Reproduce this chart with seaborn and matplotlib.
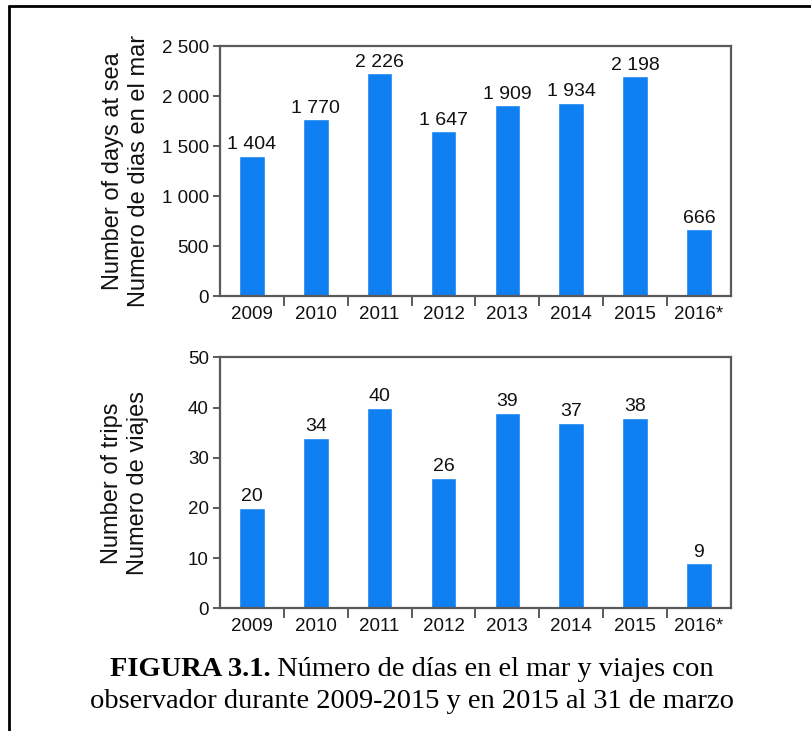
import numpy as np
import pandas as pd
import matplotlib
matplotlib.use("Agg")
import matplotlib.pyplot as plt
import seaborn as sns
from matplotlib.lines import Line2D
from matplotlib.ticker import FuncFormatter, FixedLocator

# data
years = ["2009", "2010", "2011", "2012", "2013", "2014", "2015", "2016*"]
days_at_sea = [1404, 1770, 2226, 1647, 1909, 1934, 2198, 666]
trips = [20, 34, 40, 26, 39, 37, 38, 9]

sns.set_style("white")
plt.rcParams["font.family"] = ["Liberation Sans", "DejaVu Sans"]
plt.rcParams["text.color"] = "#111111"
plt.rcParams["axes.labelcolor"] = "#111111"
plt.rcParams["xtick.color"] = "#111111"
plt.rcParams["ytick.color"] = "#111111"

bar_color = "#0f80f2"
spine_color = "#5a5a5a"

fig = plt.figure(figsize=(8.12, 7.31), dpi=100)
ax1 = fig.add_axes([0.271, 0.595, 0.629, 0.342])
ax2 = fig.add_axes([0.271, 0.168, 0.629, 0.343])


def space_thousands(v, pos=None):
    return f"{int(v):,}".replace(",", " ")


def draw_panel(ax, values, ymax, step, ylabel, label_x):
    df = pd.DataFrame({"year": years, "value": values})
    sns.barplot(data=df, x="year", y="value", color=bar_color, width=0.4,
                saturation=1, ax=ax)
    ax.set_ylim(0, ymax)
    ax.set_xlim(-0.5, len(years) - 0.5)
    ax.set_yticks(np.arange(0, ymax + 1, step))
    ax.yaxis.set_major_formatter(FuncFormatter(space_thousands))
    # category labels centred, tick marks between categories
    ax.xaxis.set_minor_locator(FixedLocator(np.arange(0.5, len(years) - 1, 1)))
    ax.tick_params(which="both", bottom=True, left=True)
    ax.tick_params(axis="x", which="major", length=0, pad=7, labelsize=13.5)
    ax.tick_params(axis="x", which="minor", length=7, width=1.4,
                   color=spine_color, direction="out")
    ax.tick_params(axis="y", length=5, width=1.4, color=spine_color,
                   labelsize=13.5, pad=3)
    for s in ax.spines.values():
        s.set_visible(True)
        s.set_color(spine_color)
        s.set_linewidth(1.6)
    for i, v in enumerate(values):
        ax.text(i, v + ymax * 0.01, space_thousands(v), ha="center",
                va="bottom", fontsize=14)
    ax.set_xlabel("")
    ax.set_ylabel(ylabel, fontsize=17, linespacing=1.2)
    ax.yaxis.set_label_coords(label_x, 0.5)


draw_panel(ax1, days_at_sea, 2500, 500,
           "Number of days at sea\nNumero de dias en el mar", -0.138)
draw_panel(ax2, trips, 50, 10,
           "Number of trips\nNumero de viajes", -0.14)

# outer frame (left and top)
fig.add_artist(Line2D([9 / 812, 9 / 812], [0, 1 - 6 / 731],
                      transform=fig.transFigure, color="black", lw=2))
fig.add_artist(Line2D([9 / 812, 1], [1 - 6 / 731, 1 - 6 / 731],
                      transform=fig.transFigure, color="black", lw=2))

# caption with bold lead-in
serif = ["Liberation Serif", "DejaVu Serif"]
cap_bold = "FIGURA 3.1."
cap_rest = " Número de días en el mar y viajes con"
cap_line2 = "observador durante 2009-2015 y en 2015 al 31 de marzo"
cap_size = 20.5

renderer = fig.canvas.get_renderer()
tb = fig.text(0, 0, cap_bold, fontsize=cap_size, fontweight="bold",
              family=serif, color="black")
tr = fig.text(0, 0, cap_rest, fontsize=cap_size, family=serif, color="black")
wb = tb.get_window_extent(renderer).width
wr = tr.get_window_extent(renderer).width
W = fig.bbox.width
x0 = (412 - (wb + wr) / 2) / W
y1 = 1 - 670 / 731
tb.set_position((x0, y1))
tb.set_va("center")
tr.set_position((x0 + wb / W, y1))
tr.set_va("center")
fig.text(412 / W, 1 - 702 / 731, cap_line2, fontsize=cap_size, family=serif,
         ha="center", va="center", color="black")

fig.savefig("out.png", dpi=100)
